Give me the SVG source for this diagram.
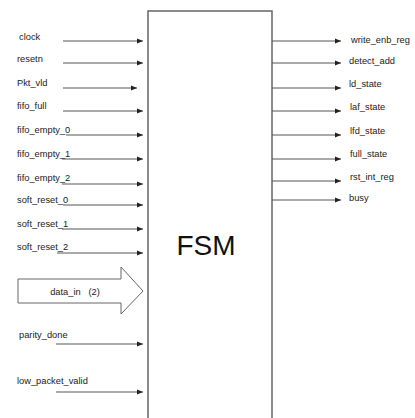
<svg xmlns="http://www.w3.org/2000/svg" width="415" height="418" viewBox="0 0 415 418">
<defs>
<style>
.lbl{font-family:"Liberation Sans",Arial,sans-serif;font-size:9.3px;fill:#222}
.ln{stroke:#555;stroke-width:1;fill:none}
.box{stroke:#666;stroke-width:1.5;fill:#fff}
</style>
<marker id="ah" viewBox="0 0 6 6" refX="6" refY="3" markerWidth="6" markerHeight="6" markerUnits="userSpaceOnUse" orient="auto">
<path d="M0,0.5 L6,3 L0,5.5 Z" fill="#222"/>
</marker>
</defs>
<rect width="415" height="418" fill="#fff"/>
<g id="fsm">
<path class="box" d="M148,420 L148,11 L272,11 L272,420"/>
<text x="206" y="255" text-anchor="middle" style="font-family:'Liberation Sans',Arial,sans-serif;font-size:28px;fill:#111">FSM</text>
</g>
<g id="data_in">
<path d="M18,279 L121,279 L121,267 L143,291 L121,314 L121,303 L18,303 Z" fill="#fff" stroke="#666" stroke-width="1"/>
<text class="lbl" x="75" y="295" text-anchor="middle" xml:space="preserve" style="white-space:pre">data_in   (2)</text>
</g>
<g id="connectors">
<line class="ln" x1="63" y1="41" x2="143" y2="41" marker-end="url(#ah)"/>
<line class="ln" x1="63" y1="63" x2="143" y2="63" marker-end="url(#ah)"/>
<line class="ln" x1="63" y1="88" x2="137" y2="88" marker-end="url(#ah)"/>
<line class="ln" x1="63" y1="111" x2="143" y2="111" marker-end="url(#ah)"/>
<line class="ln" x1="66" y1="135" x2="143" y2="135" marker-end="url(#ah)"/>
<line class="ln" x1="62" y1="159" x2="143" y2="159" marker-end="url(#ah)"/>
<line class="ln" x1="62" y1="184" x2="143" y2="184" marker-end="url(#ah)"/>
<line class="ln" x1="63" y1="205" x2="143" y2="205" marker-end="url(#ah)"/>
<line class="ln" x1="62" y1="229" x2="143" y2="229" marker-end="url(#ah)"/>
<line class="ln" x1="57" y1="253" x2="143" y2="253" marker-end="url(#ah)"/>
<line class="ln" x1="56" y1="344" x2="143" y2="344" marker-end="url(#ah)"/>
<line class="ln" x1="56" y1="392" x2="143" y2="392" marker-end="url(#ah)"/>
<line class="ln" x1="272" y1="41" x2="341" y2="41" marker-end="url(#ah)"/>
<line class="ln" x1="272" y1="63" x2="341" y2="63" marker-end="url(#ah)"/>
<line class="ln" x1="272" y1="88" x2="341" y2="88" marker-end="url(#ah)"/>
<line class="ln" x1="272" y1="111" x2="341" y2="111" marker-end="url(#ah)"/>
<line class="ln" x1="272" y1="135" x2="341" y2="135" marker-end="url(#ah)"/>
<line class="ln" x1="272" y1="159" x2="341" y2="159" marker-end="url(#ah)"/>
<line class="ln" x1="272" y1="181" x2="341" y2="181" marker-end="url(#ah)"/>
<line class="ln" x1="272" y1="200" x2="341" y2="200" marker-end="url(#ah)"/>
</g>
<g id="inputs">
<text class="lbl" x="19" y="40">clock</text>
<text class="lbl" x="17" y="62">resetn</text>
<text class="lbl" x="17" y="86">Pkt_vld</text>
<text class="lbl" x="17" y="109">fifo_full</text>
<text class="lbl" x="17" y="133">fifo_empty_0</text>
<text class="lbl" x="17" y="157">fifo_empty_1</text>
<text class="lbl" x="17" y="181">fifo_empty_2</text>
<text class="lbl" x="17" y="203">soft_reset_0</text>
<text class="lbl" x="17" y="227">soft_reset_1</text>
<text class="lbl" x="17" y="250">soft_reset_2</text>
<text class="lbl" x="19" y="338">parity_done</text>
<text class="lbl" x="17" y="384">low_packet_valid</text>
</g>
<g id="outputs">
<text class="lbl" x="351" y="43">write_enb_reg</text>
<text class="lbl" x="349" y="64">detect_add</text>
<text class="lbl" x="349" y="87">ld_state</text>
<text class="lbl" x="350" y="110">laf_state</text>
<text class="lbl" x="350" y="134">lfd_state</text>
<text class="lbl" x="350" y="157">full_state</text>
<text class="lbl" x="350" y="180">rst_int_reg</text>
<text class="lbl" x="349" y="201">busy</text>
</g>
</svg>
